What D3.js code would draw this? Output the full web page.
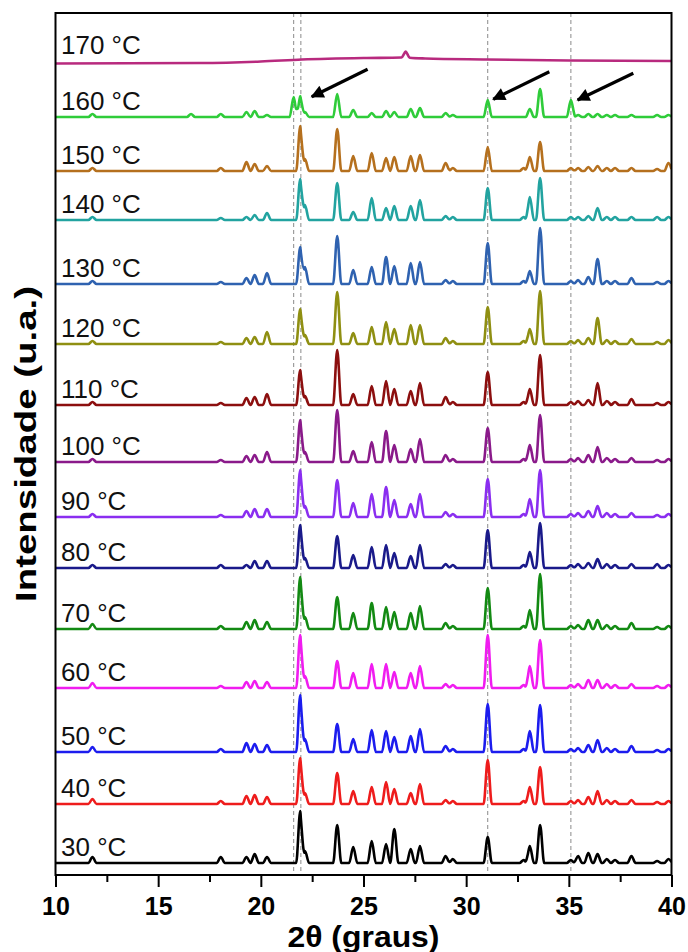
<!DOCTYPE html>
<html><head><meta charset="utf-8">
<script src="https://cdn.jsdelivr.net/npm/d3@7"></script>
<style>body{margin:0;background:#fff}</style>
</head><body><svg id="c" width="688" height="952"></svg>
<script>
// ---------- data ----------
const temps = ["30 °C","40 °C","50 °C","60 °C","70 °C","80 °C","90 °C","100 °C","110 °C","120 °C","130 °C","140 °C","150 °C","160 °C","170 °C"];
const colors = ["#000000","#ee1c1c","#1c1cee","#f01cf0","#138a13","#1a1a8a","#8a2ef0","#8a1a8a","#8c0f0f","#8f8f12","#2f62b0","#22a3a0","#b5701e","#2fcc3a","#b82a7e"];
// vertical offset of each pattern (intensity units)
const offsets = [12,71,123,187,246,307,358,413,470,531,591,655,704,758,814];
// peak positions (2θ)
const peakPos = [11.8,16.6,18.05,19.3,19.7,20.3,21.6,21.92,22.15,23.72,24.5,25.4,26.1,26.5,27.05,27.3,27.75,29.0,29.35,31.05,32.8,33.1,33.6,35.1,35.45,35.95,36.4,36.85,37.25,38.05,39.3,39.85];
// peak intensities per temperature
const h30  = [6,0,6,6,9,6,0,52,12,38,16,22,19,34,0,14,17,7,4,26,3,17,38,3,7,10,9,4,3,7,2,4];
const h40  = [5,0,3,8,9,7,0,46,11,31,13,17,22,15,0,11,20,4,3,44,3,17,37,3,4,7,13,4,3,4,2,3];
const h50  = [5,0,3,9,8,7,0,57,13,28,13,22,21,15,0,16,23,6,3,48,3,21,47,3,4,7,12,4,3,6,2,3];
const h60  = [5,0,2,6,7,6,0,53,12,27,15,24,24,16,0,15,22,4,3,53,3,22,48,3,4,8,8,4,3,4,2,3];
const h70  = [5,0,3,7,9,7,0,52,12,32,16,26,22,17,0,16,23,6,3,41,3,19,55,3,4,9,9,4,3,6,2,3];
const h80  = [3,0,3,3,7,7,0,43,10,32,13,21,23,15,0,12,23,4,3,38,3,16,45,3,4,5,9,4,3,4,4,3];
const h90  = [3,0,2,6,8,8,0,47,11,37,14,23,30,17,0,13,23,5,3,38,3,18,47,3,4,6,11,4,3,4,2,3];
const h100 = [3,0,2,6,7,10,0,42,10,52,11,20,31,17,0,13,23,7,3,34,3,17,47,3,4,7,15,4,3,4,2,3];
const h110 = [3,0,2,7,8,11,0,35,9,55,11,19,24,16,0,14,22,8,3,33,3,16,50,3,4,5,22,4,3,6,2,3];
const h120 = [3,0,2,6,7,12,0,35,9,52,11,17,22,15,0,19,19,6,3,37,3,15,53,3,4,6,26,4,3,5,2,4];
const h130 = [3,0,2,6,9,11,0,37,17,48,14,17,27,18,0,21,22,4,3,41,3,13,56,3,4,7,25,3,3,6,2,3];
const h140 = [3,0,2,3,5,7,0,41,15,37,8,22,12,14,0,14,20,4,3,32,3,23,42,3,3,4,12,3,3,3,3,3];
const h150 = [3,0,3,9,7,5,0,45,12,42,15,18,13,14,0,15,16,8,3,24,3,14,29,3,3,4,5,3,3,3,2,8];
const h160 = [3,3,3,5,6,2,20,21,5,23,7,4,6,5,0,8,9,4,2,17,0,8,28,17,2,3,3,2,2,2,2,2];
const h170 = [0,0,0,0,0,0,0,0,0,0,0,0,0,0,6,0,0,0,0,0,0,0,0,0,0,0,0,0,0,0,0,0];
const heights = [h30,h40,h50,h60,h70,h80,h90,h100,h110,h120,h130,h140,h150,h160,h170];
// broad amorphous background of the 170 °C pattern
const hump170 = [[10,-2.5],[17,-2],[20,-0.5],[22,1.5],[25,3],[27,3.5],[28,2.5],[31,1.5],[35,0.5],[40,0]];
const xTicks = [10,15,20,25,30,35,40];
const xMinor = [12.5,17.5,22.5,27.5,32.5,37.5];
const dashLines = [21.6,21.95,31.05,35.1];
const arrows = [
  {x1:25.2,y1:805.7,x2:22.48,y2:778.3},
  {x1:34.05,y1:803.3,x2:31.32,y2:775.7},
  {x1:38.14,y1:801.7,x2:35.43,y2:775}
];

// ---------- chart ----------
const svg = d3.select("#c");
const font = "'Liberation Sans', Arial, Helvetica, sans-serif";
const x = d3.scaleLinear([10,40],[55.5,671.5]);
const y = d3.scaleLinear([0,862],[875,13]);
const hw = 0.2;

svg.append("defs").append("clipPath").attr("id","clip")
  .append("rect").attr("x",x(10)).attr("y",y(862)).attr("width",x(40)-x(10)).attr("height",y(0)-y(862));

// dashed reference lines
svg.append("g").selectAll("line").data(dashLines).join("line")
  .attr("x1",d=>x(d)).attr("x2",d=>x(d)).attr("y1",y(862)).attr("y2",y(0))
  .attr("stroke","#8a8a8a").attr("stroke-width",1).attr("stroke-dasharray","4,3");

function traceData(i){
  const hs = heights[i];
  const peaks = peakPos.map((p,k)=>({p,h:hs[k]})).filter(d=>d.h>0);
  let xs = [10,40];
  peaks.forEach(d=>xs.push(d.p-hw,d.p,d.p+hw));
  if(i===14) hump170.forEach(d=>xs.push(d[0]));
  xs = Array.from(new Set(xs)).filter(v=>v>=10&&v<=40).sort((a,b)=>a-b);
  const base = i===14 ? d3.scaleLinear(hump170.map(d=>d[0]),hump170.map(d=>d[1])) : ()=>0;
  return xs.map(v=>{
    let m=0;
    peaks.forEach(d=>{const t=d.h*(1-Math.abs(v-d.p)/hw); if(t>m)m=t;});
    return [v, offsets[i]+base(v)+m];
  });
}
const line = d3.line().x(d=>x(d[0])).y(d=>y(d[1])).curve(d3.curveMonotoneX);

const gT = svg.append("g").attr("clip-path","url(#clip)");
temps.forEach((t,i)=>{
  gT.append("path").attr("d",line(traceData(i)))
    .attr("fill","none").attr("stroke",colors[i]).attr("stroke-width",2.6)
    .attr("stroke-linejoin","round");
});

// labels
svg.append("g").selectAll("text").data(temps).join("text")
  .attr("x",61).attr("y",(d,i)=>y(offsets[i])-7)
  .attr("font-family",font).attr("font-size",26).attr("fill","#111")
  .text(d=>d);

// arrows
const defs = svg.select("defs");
defs.append("marker").attr("id","ah").attr("viewBox","0 0 10 10").attr("refX",9).attr("refY",5)
  .attr("markerWidth",16).attr("markerHeight",13).attr("markerUnits","userSpaceOnUse").attr("orient","auto")
  .append("path").attr("d","M0,0 L10,5 L0,10 Z").attr("fill","#000");
svg.append("g").selectAll("line").data(arrows).join("line")
  .attr("x1",d=>x(d.x1)).attr("y1",d=>y(d.y1)).attr("x2",d=>x(d.x2)).attr("y2",d=>y(d.y2))
  .attr("stroke","#000").attr("stroke-width",3.2).attr("marker-end","url(#ah)");

// frame
svg.append("rect").attr("x",x(10)).attr("y",y(862)).attr("width",x(40)-x(10)).attr("height",y(0)-y(862))
  .attr("fill","none").attr("stroke","#000").attr("stroke-width",2);

// x axis
const gx = svg.append("g").attr("transform",`translate(0,${y(0)})`)
  .call(d3.axisBottom(x).tickValues(xTicks).tickSize(12).tickFormat(d3.format("d")));
gx.select(".domain").remove();
gx.selectAll(".tick line").attr("stroke","#000").attr("stroke-width",2);
gx.selectAll(".tick text").attr("y",40).attr("dy",0)
  .attr("font-family",font).attr("font-size",25).attr("font-weight","bold").attr("fill","#000");
const gm = svg.append("g").attr("transform",`translate(0,${y(0)})`)
  .call(d3.axisBottom(x).tickValues(xMinor).tickSize(7).tickFormat(""));
gm.select(".domain").remove();
gm.selectAll(".tick line").attr("stroke","#000").attr("stroke-width",2);

// axis titles
svg.append("text").attr("x",x(25)).attr("y",947).attr("text-anchor","middle")
  .attr("font-family",font).attr("font-size",29).attr("font-weight","bold").attr("fill","#000")
  .attr("textLength",152).attr("lengthAdjust","spacingAndGlyphs")
  .text("2θ (graus)");
svg.append("text").attr("transform",`translate(36,${(y(0)+y(862))/2}) rotate(-90)`).attr("text-anchor","middle")
  .attr("font-family",font).attr("font-size",29).attr("font-weight","bold").attr("fill","#000")
  .attr("textLength",316).attr("lengthAdjust","spacingAndGlyphs")
  .text("Intensidade (u.a.)");
</script></body></html>
